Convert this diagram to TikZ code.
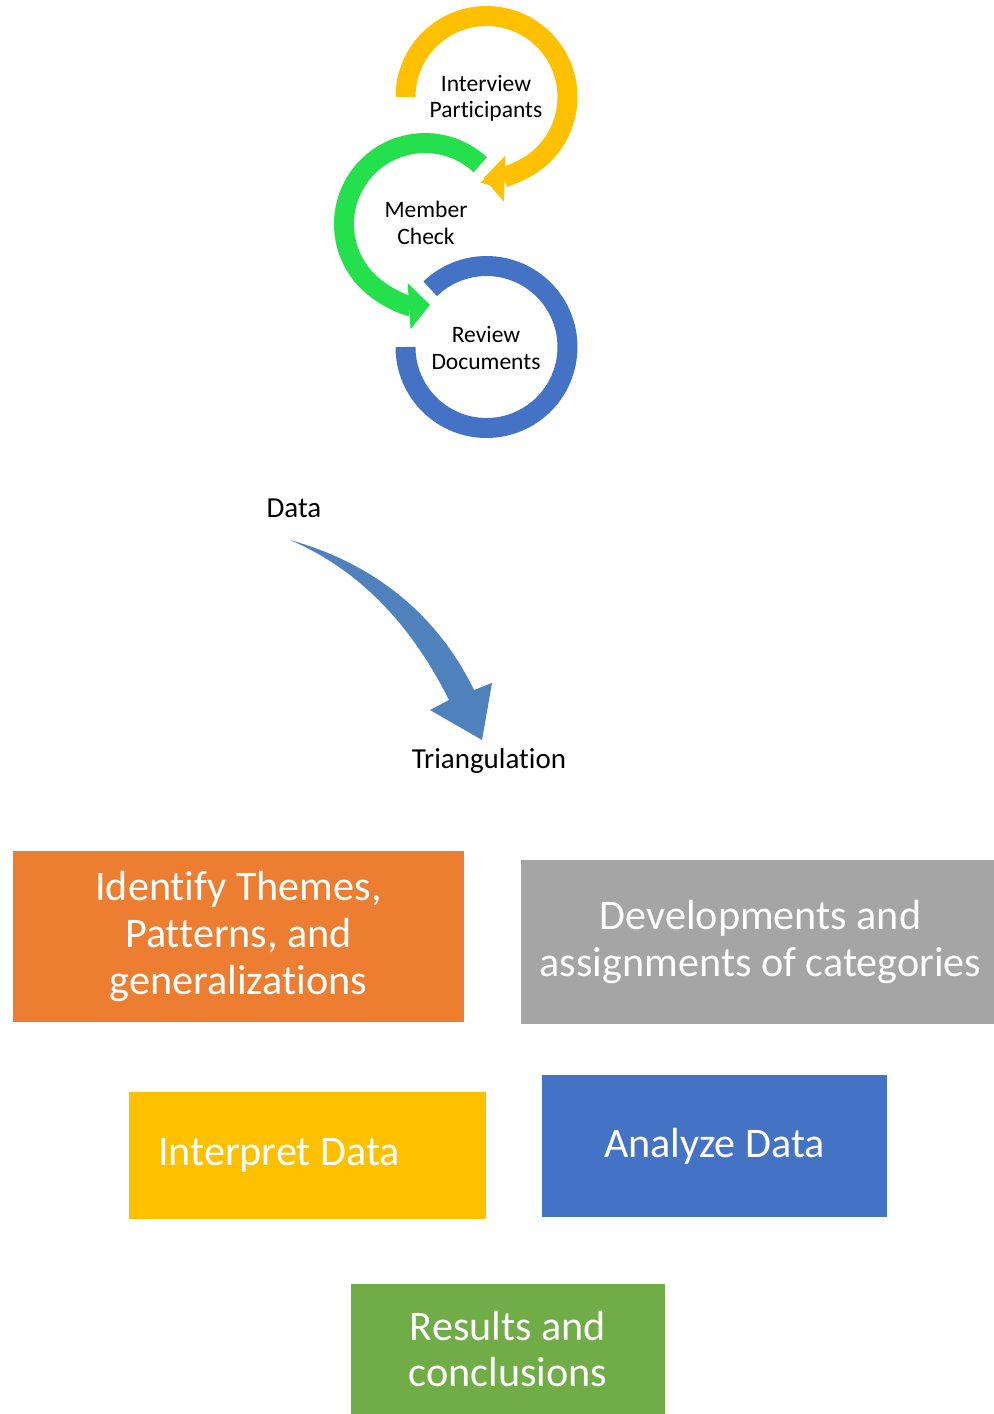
\documentclass[tikz,border=0pt]{standalone}
\usepackage{fontspec}
\setmainfont{Carlito}[Ligatures=NoCommon]
\usetikzlibrary{arrows.meta}

\definecolor{ringyellow}{HTML}{FFC000}
\definecolor{ringgreen}{HTML}{24E04C}
\definecolor{ringblue}{HTML}{4472C4}
\definecolor{arrowblue}{HTML}{4F81BD}
\definecolor{boxorange}{HTML}{ED7D31}
\definecolor{boxgray}{HTML}{A5A5A5}
\definecolor{boxyellow}{HTML}{FFC000}
\definecolor{boxblue}{HTML}{4472C4}
\definecolor{boxgreen}{HTML}{70AD47}

\tikzset{
  ring/.style={line width=0.4cm},
  ringtip/.style={-{Triangle[width=0.9cm,length=0.42cm]}},
  ringtext/.style={align=center, font=\fontsize{13.4}{15}\selectfont},
  plaintext/.style={font=\fontsize{16.5}{19}\selectfont},
  stepbox/.style={inner sep=0pt, text=white, align=center, font=\fontsize{24}{26.5}\selectfont},
}

\begin{document}
\begin{tikzpicture}[x=0.02cm, y=-0.02cm]
            \useasboundingbox (0,0) rectangle (994,1414);

            % the three rings
            \draw[ring, ringyellow, ringtip] (405.5,97) arc[start angle=180, end angle=-92, radius=1.62cm];
            \draw[ring, ringgreen, ringtip] (480.2,164.8) arc[start angle=47, end angle=273.6, radius=1.62cm];
            \draw[ring, ringblue] (405.5,347) arc[start angle=180, end angle=494, radius=1.62cm];
            \node[ringtext] (interview) at (486,98) {Interview\\Participants};
            \node[ringtext] (member) at (426,223) {Member\\Check};
            \node[ringtext] (review) at (486,348) {Review\\Documents};

            % data -> triangulation
            \node[plaintext, anchor=base] (data) at (294,517) {Data};
            \node[plaintext, anchor=base] (triang) at (489,768) {Triangulation};
            \fill[arrowblue] (290,540) .. controls (380,565) and (440,620) .. (474,690) -- (492,683) -- (482,740)
                -- (430,710) -- (449,700) .. controls (415,632) and (365,572) .. (290,540) -- cycle;

            % steps
            \node[stepbox, fill=boxorange, minimum width=9.02cm, minimum height=3.42cm] (themes) at (238.5,936.5) {Identify Themes,\\Patterns, and\\generalizations};
            \node[stepbox, fill=boxgray, minimum width=9.46cm, minimum height=3.28cm] (categories) at (757.5,942) {\hspace*{3.5pt}Developments and\\\hspace*{3.5pt}assignments of categories};
            \node[stepbox, fill=boxyellow, minimum width=7.14cm, minimum height=2.54cm, text width=5.98cm, align=flush left] (interpret) at (307.5,1155.5) {Interpret Data};
            \node[stepbox, fill=boxblue, minimum width=6.9cm, minimum height=2.84cm] (analyze) at (714.5,1146) {Analyze Data};
            \node[stepbox, fill=boxgreen, minimum width=6.28cm, minimum height=2.6cm] (results) at (508,1349) {Results and\\conclusions};
        \end{tikzpicture}
\end{document}
